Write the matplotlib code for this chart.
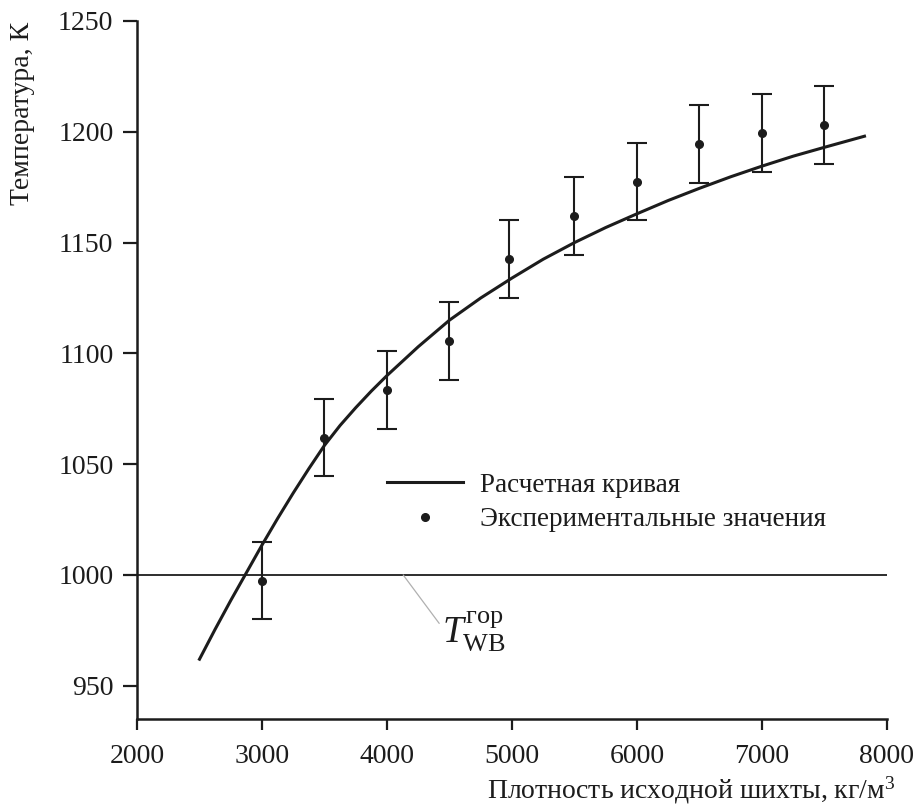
import matplotlib
matplotlib.use('Agg')
import matplotlib.pyplot as plt
from matplotlib.lines import Line2D

plt.rcParams['font.family'] = ['Liberation Serif', 'DejaVu Serif']
plt.rcParams['mathtext.fontset'] = 'custom'
plt.rcParams['mathtext.rm'] = 'Liberation Serif'
plt.rcParams['mathtext.it'] = 'Liberation Serif:italic'

# experimental points (density, temperature, half-width of error bar)
exp_x = [3000, 3500, 4000, 4500, 4980, 5500, 6000, 6500, 7000, 7500]
exp_y = [997.5, 1062, 1083.5, 1105.5, 1142.5, 1162, 1177.5, 1194.5, 1199.5, 1203]
exp_err = [17.5, 17.5, 17.5, 17.5, 17.5, 17.5, 17.5, 17.5, 17.5, 17.5]

# calculated curve
calc_x = [2500, 2625, 2750, 2875, 3000, 3125, 3250, 3375, 3500, 3625, 3750, 3875,
          4000, 4250, 4500, 4750, 5000, 5250, 5500, 5750, 6000, 6250, 6500, 6750,
          7000, 7250, 7500, 7820]
calc_y = [962, 975.5, 988.5, 1001, 1013.5, 1025.5, 1037, 1048, 1058.5, 1067.5, 1075.5, 1083,
          1090, 1103, 1115, 1125, 1134, 1142.5, 1150, 1156.8, 1163, 1169, 1174.5, 1179.7,
          1184.5, 1189, 1193, 1198]

t_burn = 1000
xlims = [2000, 8000]
ylims = [935, 1250]
xticks = [2000, 3000, 4000, 5000, 6000, 7000, 8000]
yticks = [950, 1000, 1050, 1100, 1150, 1200, 1250]

col = '#1c1c1c'

fig = plt.figure(figsize=(9.2, 8.07), dpi=100)
ax = fig.add_axes([0.1489, 0.109, 0.8152, 0.865])

ax.plot(calc_x, calc_y, color=col, lw=2.2, solid_joinstyle='round')
ax.errorbar(exp_x, exp_y, yerr=exp_err, fmt='o', color=col, ms=5.5,
            elinewidth=1.5, capsize=7.5, capthick=1.5)
ax.axhline(t_burn, color=col, lw=1.3)

ax.annotate(r'$T_{\mathrm{WB}}^{\mathrm{гор}}$', xy=(4130, t_burn), xytext=(4440, 974.5),
            fontsize=27, va='center', ha='left', color=col,
            arrowprops=dict(arrowstyle='-', color='#b0b0b0', lw=0.9,
                            shrinkA=0, shrinkB=0, relpos=(0, 0.6)))

ax.set_xlim(xlims)
ax.set_ylim(ylims)
ax.set_xticks(xticks)
ax.set_yticks(yticks)
for s in ['top', 'right']:
    ax.spines[s].set_visible(False)
for s in ['left', 'bottom']:
    ax.spines[s].set_linewidth(1.8)
    ax.spines[s].set_color(col)
ax.tick_params(axis='both', direction='out', width=1.6, color=col, labelsize=20,
               labelcolor=col)
ax.tick_params(axis='y', length=10, pad=7)
ax.tick_params(axis='x', length=8, pad=10)

handles = [Line2D([], [], color=col, lw=2.2),
           Line2D([], [], color=col, marker='o', ls='none', ms=5.5)]
ax.legend(handles, ['Расчетная кривая', 'Экспериментальные значения'],
          loc='upper left', bbox_to_anchor=(0.333, 0.353), frameon=False,
          fontsize=19.5, handlelength=2.8, handletextpad=0.65,
          borderpad=0, borderaxespad=0, labelspacing=0.35, labelcolor=col)

fig.text(0.973, 0.011, 'Плотность исходной шихты, кг/м$^3$', ha='right',
         va='baseline', fontsize=20, color=col)
fig.text(0.024, 0.973, 'Температура, К', rotation=90, ha='center', va='top',
         fontsize=20, color=col)

plt.savefig('out.png', dpi=100)
